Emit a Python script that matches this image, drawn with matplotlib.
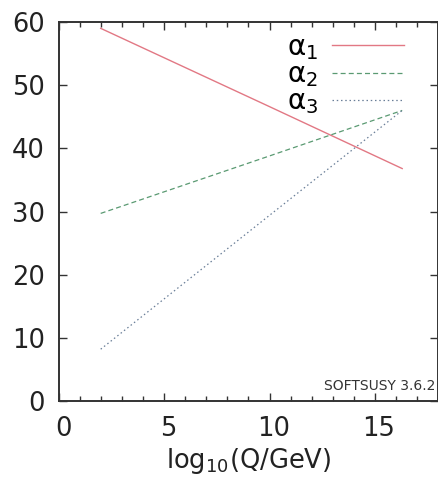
import matplotlib
matplotlib.use("Agg")
import matplotlib.pyplot as plt
import matplotlib.transforms as mtransforms
from matplotlib.ticker import MultipleLocator

plt.rcParams["font.family"] = ["DejaVu Sans"]
plt.rcParams["mathtext.fontset"] = "dejavusans"

# inverse gauge couplings against log10 of the scale
log_q = [1.98, 10.0, 16.3]
inv_alpha1 = [59.0, 46.6, 36.8]
inv_alpha2 = [29.7, 38.8, 46.0]
inv_alpha3 = [8.2, 29.4, 46.0]
labels = [r"$\mathrm{α}_1$", r"$\mathrm{α}_2$", r"$\mathrm{α}_3$"]

fig = plt.figure(figsize=(4.39, 4.86), dpi=100)
ax = fig.add_axes([0.1344, 0.1749, 0.8633, 0.7798])

ax.plot(log_q, inv_alpha1, color="#e27884", lw=1.0, ls="-", label=labels[0])
ax.plot(log_q, inv_alpha2, color="#5a9a72", lw=0.9, ls=(0, (4, 2.5)), label=labels[1])
ax.plot(log_q, inv_alpha3, color="#6a7f98", lw=0.9, ls=(0, (1.2, 2.2)), label=labels[2])

ax.set_xlim(0, 18)
ax.set_ylim(0, 60)
ax.xaxis.set_major_locator(MultipleLocator(5))
ax.xaxis.set_minor_locator(MultipleLocator(1))
ax.yaxis.set_major_locator(MultipleLocator(10))
ax.tick_params(which="both", direction="in", top=True, right=True,
               colors="#333333", width=1.0)
ax.tick_params(which="major", length=6, labelsize=18.5, labelcolor="#222222")
ax.tick_params(axis="x", which="major", pad=11)
ax.tick_params(axis="y", which="major", pad=10)
ax.tick_params(which="minor", length=3.5)
for s in ax.spines.values():
    s.set_color("#333333")
    s.set_linewidth(1.4)

# x tick labels sit a little right of their ticks
shift = mtransforms.ScaledTranslation(4 / 100, 0, fig.dpi_scale_trans)
for lbl in ax.get_xticklabels():
    lbl.set_transform(lbl.get_transform() + shift)

ax.set_xlabel(r"log$_{10}$(Q/GeV)", fontsize=18.5, color="#222222", labelpad=3)

ax.legend(loc="upper right", frameon=False, markerfirst=False, fontsize=20,
          handlelength=2.6, handletextpad=0.5, labelspacing=-0.06,
          borderaxespad=0.0, bbox_to_anchor=(0.94, 1.0))

ax.text(0.992, 0.022, "SOFTSUSY 3.6.2", transform=ax.transAxes, ha="right",
        va="bottom", fontsize=10, color="#333333")

fig.savefig("out.png", dpi=100)
